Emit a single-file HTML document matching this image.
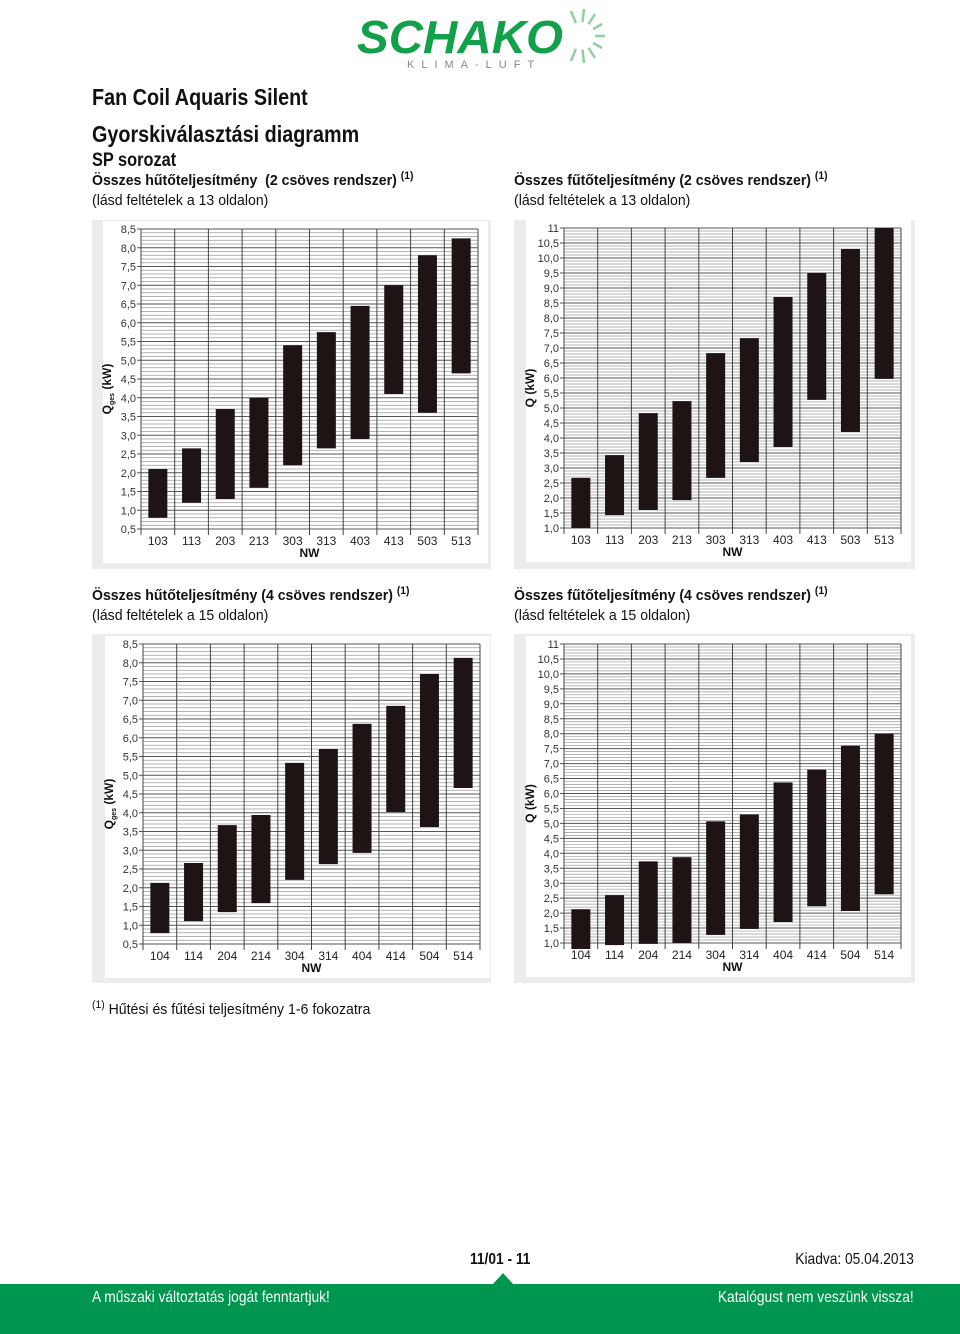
<!DOCTYPE html>
<html><head><meta charset="utf-8">
<style>
*{margin:0;padding:0;box-sizing:border-box}
body{width:960px;height:1334px;background:#fff;position:relative;overflow:hidden;font-family:"Liberation Sans",sans-serif;color:#111}
.t{position:absolute;white-space:nowrap;transform:scaleX(.86);transform-origin:left top}
.s{transform:scaleX(.94)}
.tr{transform-origin:right top}
.panel{position:absolute;background:#ececec}
sup{font-size:11px;position:relative;top:-2px;vertical-align:top}
</style></head><body>
<svg style="position:absolute;left:355px;top:2px" width="255" height="70" viewBox="0 0 255 70">
 <text x="2" y="51" font-family="Liberation Sans" font-weight="bold" font-style="italic" font-size="46" fill="#13a04a" textLength="206" lengthAdjust="spacingAndGlyphs">SCHAKO</text>
 <g stroke="#8fd0a3" stroke-width="2.5">
  <line x1="226" y1="34" x2="250" y2="34"/><line x1="226" y1="34" x2="247" y2="22"/><line x1="226" y1="34" x2="247" y2="46"/>
  <line x1="226" y1="34" x2="240" y2="12"/><line x1="226" y1="34" x2="240" y2="56"/><line x1="226" y1="34" x2="229" y2="7"/><line x1="226" y1="34" x2="229" y2="61"/>
  <line x1="226" y1="34" x2="216" y2="9"/><line x1="226" y1="34" x2="216" y2="59"/>
 </g>
 <circle cx="226" cy="34" r="14" fill="#fff"/>
 <text x="52" y="66" font-family="Liberation Sans" font-size="11" fill="#888" letter-spacing="7">KLIMA-LUFT</text>
</svg>
<div class="t" style="left:92px;top:84px;font-size:23px;font-weight:bold">Fan Coil Aquaris Silent</div>
<div class="t" style="left:92px;top:121px;font-size:23px;font-weight:bold">Gyorskiválasztási diagramm</div>
<div class="t" style="left:92px;top:150px;font-size:19px;font-weight:bold">SP sorozat</div>

<div class="t s" style="left:92px;top:172px;font-size:15px;font-weight:bold">Összes hűtőteljesítmény&nbsp; (2 csöves rendszer) <sup>(1)</sup></div>
<div class="t s" style="left:92px;top:192px;font-size:15px">(lásd feltételek a 13 oldalon)</div>
<div class="t s" style="left:514px;top:172px;font-size:15px;font-weight:bold">Összes fűtőteljesítmény (2 csöves rendszer) <sup>(1)</sup></div>
<div class="t s" style="left:514px;top:192px;font-size:15px">(lásd feltételek a 13 oldalon)</div>
<div class="t s" style="left:92px;top:587px;font-size:15px;font-weight:bold">Összes hűtőteljesítmény (4 csöves rendszer) <sup>(1)</sup></div>
<div class="t s" style="left:92px;top:607px;font-size:15px">(lásd feltételek a 15 oldalon)</div>
<div class="t s" style="left:514px;top:587px;font-size:15px;font-weight:bold">Összes fűtőteljesítmény (4 csöves rendszer) <sup>(1)</sup></div>
<div class="t s" style="left:514px;top:607px;font-size:15px">(lásd feltételek a 15 oldalon)</div>

<div class="panel" style="left:92px;top:220px;width:399px;height:349px"></div>
<div class="panel" style="left:514px;top:220px;width:401px;height:349px"></div>
<div class="panel" style="left:92px;top:634px;width:399px;height:349px"></div>
<div class="panel" style="left:514px;top:634px;width:401px;height:349px"></div>
<svg id="charts" style="position:absolute;left:0;top:0" width="960" height="1000"></svg>

<div class="t s" style="left:92px;top:1001px;font-size:15px"><sup>(1)</sup> Hűtési és fűtési teljesítmény 1-6 fokozatra</div>
<div class="t" style="left:470px;top:1251px;font-size:16px;font-weight:bold">11/01 - 11</div>
<div class="t tr" style="right:46px;top:1251px;font-size:16px">Kiadva: 05.04.2013</div>
<div style="position:absolute;left:0;top:1284px;width:960px;height:50px;background:#009650"></div>
<div style="position:absolute;left:493px;top:1273px;width:0;height:0;border-left:10px solid transparent;border-right:10px solid transparent;border-bottom:11px solid #009650"></div>
<div class="t" style="left:92px;top:1289px;font-size:16px;color:#fff">A műszaki változtatás jogát fenntartjuk!</div>
<div class="t tr" style="right:46px;top:1289px;font-size:16px;color:#fff">Katalógust nem veszünk vissza!</div>

<script>
const cats1 = ["103","113","203","213","303","313","403","413","503","513"];
const cats3 = ["104","114","204","214","304","314","404","414","504","514"];
const c1Low = [0.8,1.2,1.3,1.6,2.2,2.65,2.9,4.1,3.6,4.65];
const c1High = [2.1,2.65,3.7,4.0,5.4,5.75,6.45,7.0,7.8,8.25];
const c2Low = [1.0,1.43,1.6,1.93,2.67,3.2,3.7,5.27,4.2,5.97];
const c2High = [2.67,3.43,4.83,5.23,6.83,7.33,8.7,9.5,10.3,11.0];
const c3Low = [0.79,1.11,1.35,1.59,2.21,2.63,2.93,4.02,3.62,4.66];
const c3High = [2.13,2.66,3.67,3.94,5.33,5.7,6.37,6.85,7.7,8.13];
const c4Low = [0.8,0.93,0.97,1.0,1.27,1.47,1.7,2.23,2.07,2.63];
const c4High = [2.13,2.6,3.73,3.87,5.07,5.3,6.37,6.8,7.6,8.0];
const coolTicks = ["0,5","1,0","1,5","2,0","2,5","3,0","3,5","4,0","4,5","5,0","5,5","6,0","6,5","7,0","7,5","8,0","8,5"];
const heatTicks = ["1,0","1,5","2,0","2,5","3,0","3,5","4,0","4,5","5,0","5,5","6,0","6,5","7,0","7,5","8,0","8,5","9,0","9,5","10,0","10,5","11"];

const NS="http://www.w3.org/2000/svg";
const root=document.getElementById('charts');
function mk(tag,attrs,parent){const e=document.createElementNS(NS,tag);for(const k in attrs)e.setAttribute(k,attrs[k]);(parent||root).appendChild(e);return e;}

function chart(id,box,cats,low,high,ymin,ymax,ticks,ylabel){
  const g=mk('g',{});
  
  
  mk('rect',{x:box.l-38,y:box.t-8,width:box.r-box.l+48,height:box.b-box.t+42,fill:'#fff'},g);
  const y=v=>box.b-(v-ymin)/(ymax-ymin)*(box.b-box.t);
  const cw=(box.r-box.l)/cats.length;
  const x=i=>box.l+cw*i;
  const steps=Math.round((ymax-ymin)*10);
  for(let k=0;k<=steps;k++){
    const v=ymin+k/10, yy=y(v), major=k%5===0;
    const ln=mk('line',{x1:box.l-(major?4:0),x2:box.r,y1:yy,y2:yy,stroke:major?'#555':'#9a9a9a','stroke-width':major?1:0.7},g);
    
    
  }
  for(let i=0;i<=cats.length;i++){
    mk('line',{x1:x(i),x2:x(i),y1:box.t,y2:box.b+6,stroke:'#444','stroke-width':1},g);
  }
  ticks.forEach((t,k)=>{
    const tx=mk('text',{x:box.l-5,y:y(ymin+k*0.5)+4,'font-size':11,'text-anchor':'end',fill:'#333','font-family':'Liberation Sans, sans-serif'},g);
    tx.textContent=t;
    
    
  });
  cats.forEach((c,i)=>{
    const bw=19;
    const r=mk('rect',{x:x(i)+cw/2-bw/2,y:y(high[i]),width:bw,height:y(low[i])-y(high[i]),fill:'#1e1414'},g);
    
    
    const tx=mk('text',{x:x(i)+cw/2,y:box.b+16,'font-size':12,'text-anchor':'middle',fill:'#222','font-family':'Liberation Sans, sans-serif'},g);
    tx.textContent=c;
    
    
  });
  const nw=mk('text',{x:(box.l+box.r)/2,y:box.b+28,'font-size':12,'font-weight':'bold','text-anchor':'middle',fill:'#111','font-family':'Liberation Sans, sans-serif'},g);
  nw.textContent='NW';
  
  
  const cy=(box.t+box.b)/2+10;
  const yl=mk('text',{x:box.l-30,y:cy,'font-size':12,'font-weight':'bold',fill:'#111',transform:'rotate(-90 '+(box.l-30)+' '+cy+')','text-anchor':'middle','font-family':'Liberation Sans, sans-serif'},g);
  yl.innerHTML=ylabel;
  
  
}
const qges='Q<tspan font-size="7" dy="3">ges</tspan><tspan dy="-3"> (kW)</tspan>';
chart('chart-cooling-2pipe',{l:141,r:478,t:229,b:529},cats1,c1Low,c1High,0.5,8.5,coolTicks,qges);
chart('chart-heating-2pipe',{l:564,r:901,t:228,b:528},cats1,c2Low,c2High,1,11,heatTicks,'Q (kW)');
chart('chart-cooling-4pipe',{l:143,r:480,t:644,b:944},cats3,c3Low,c3High,0.5,8.5,coolTicks,qges);
chart('chart-heating-4pipe',{l:564,r:901,t:644,b:943},cats3,c4Low,c4High,1,11,heatTicks,'Q (kW)');
</script>
</body></html>
